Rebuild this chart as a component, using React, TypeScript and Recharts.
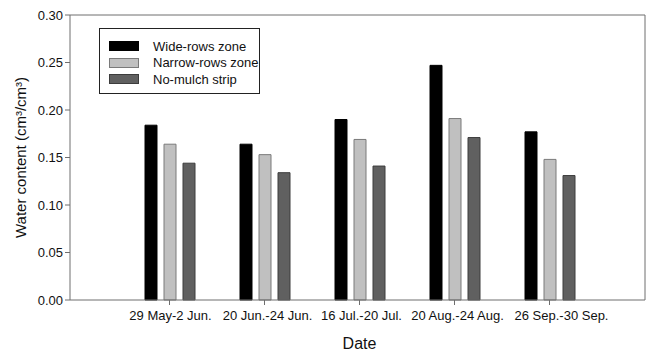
import React from "react";
import { BarChart, Bar, XAxis, YAxis, Legend, CartesianGrid } from "recharts";

const categories = ["29 May-2 Jun.", "20 Jun.-24 Jun.", "16 Jul.-20 Jul.", "20 Aug.-24 Aug.", "26 Sep.-30 Sep."];
const wideRows = [0.184, 0.164, 0.19, 0.247, 0.177];
const narrowRows = [0.164, 0.153, 0.169, 0.191, 0.148];
const noMulch = [0.144, 0.134, 0.141, 0.171, 0.131];
const yTicks = [0, 0.05, 0.1, 0.15, 0.2, 0.25, 0.3];

const seriesNames = ["Wide-rows zone", "Narrow-rows zone", "No-mulch strip"];
const seriesFill = ["#000000", "#c0c0c0", "#606060"];
const seriesStroke = ["#000000", "#7a7a7a", "#3c3c3c"];
const seriesKeys = ["wide", "narrow", "nomulch"];

// small horizontal nudges of the category labels, as in the original figure
const tickLabelShift = [1, 3, 2, 3, 12];

const data = categories.map((c, i) => ({
  date: c,
  wide: wideRows[i],
  narrow: narrowRows[i],
  nomulch: noMulch[i],
}));

const FONT = "'Liberation Sans', Arial, sans-serif";
const AXIS = "#6e6e6e";

const LegendBox = () => (
  <div
    style={{
      border: "1px solid #222",
      width: 161,
      height: 66,
      boxSizing: "border-box",
      padding: "9px 0 0 9px",
      background: "#fff",
      fontFamily: FONT,
      fontSize: 13,
      color: "#111",
    }}
  >
    {seriesNames.map((n, i) => (
      <div key={n} style={{ display: "flex", alignItems: "center", height: 16.5 }}>
        <div
          style={{
            width: 30,
            height: 10,
            background: seriesFill[i],
            border: `1px solid ${seriesStroke[i]}`,
            boxSizing: "border-box",
            marginRight: 14,
          }}
        />
        <span>{n}</span>
      </div>
    ))}
  </div>
);

const CatTick = (props: any) => {
  const { x, y, payload, index } = props;
  return (
    <text
      x={x + (tickLabelShift[index] || 0)}
      y={y}
      dy="0.71em"
      textAnchor="middle"
      fill="#111"
      fontSize={13}
      fontFamily={FONT}
    >
      {payload.value}
    </text>
  );
};

export default function App() {
  return (
    <div style={{ position: "absolute", left: 0, top: 0, background: "#fff" }}>
      <BarChart
        width={646}
        height={352}
        data={data}
        margin={{ top: 15, right: 1, bottom: 0, left: 0 }}
        barSize={12}
        barGap={7}
      >
        <CartesianGrid
          stroke={AXIS}
          strokeWidth={1}
          horizontalCoordinatesGenerator={(p: any) => [p.offset.top]}
          verticalCoordinatesGenerator={(p: any) => [p.offset.left + p.offset.width]}
        />
        <XAxis
          dataKey="date"
          height={52}
          padding={{ left: 52, right: 48 }}
          tickSize={5}
          tickMargin={6}
          stroke={AXIS}
          tick={<CatTick />}
          interval={0}
          label={{ value: "Date", position: "insideBottom", offset: 3, dx: 2, style: { fill: "#111", fontSize: 16, fontFamily: FONT } }}
        />
        <YAxis
          width={70}
          domain={[0, 0.3]}
          ticks={yTicks}
          tickFormatter={(v: number) => v.toFixed(2)}
          tickSize={5}
          tickMargin={2}
          stroke={AXIS}
          tick={{ fill: "#111", fontSize: 13, fontFamily: FONT }}
          label={{
            value: "Water content (cm³/cm³)",
            angle: -90,
            position: "insideLeft",
            offset: 21,
            style: { textAnchor: "middle", fill: "#111", fontSize: 15, fontFamily: FONT },
          }}
        />
        <Legend
          layout="horizontal"
          verticalAlign="middle"
          align="center"
          content={() => <LegendBox />}
          wrapperStyle={{ position: "absolute", left: 99, top: 28, width: 161, height: 66 }}
        />
        {seriesKeys.map((k, i) => (
          <Bar
            key={k}
            dataKey={k}
            name={seriesNames[i]}
            fill={seriesFill[i]}
            stroke={seriesStroke[i]}
            strokeWidth={1}
            isAnimationActive={false}
          />
        ))}
      </BarChart>
    </div>
  );
}
